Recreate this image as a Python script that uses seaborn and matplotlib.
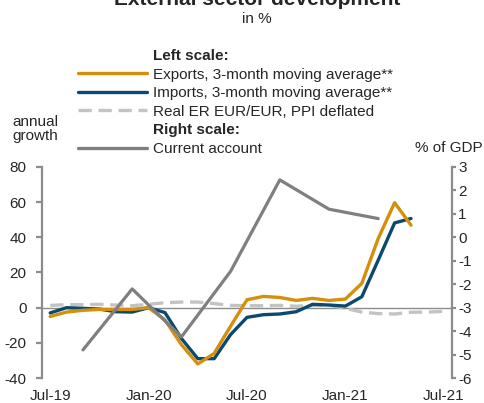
import pandas as pd
import numpy as np
import matplotlib
matplotlib.use("Agg")
import matplotlib.pyplot as plt
from matplotlib.lines import Line2D
import seaborn as sns

# monthly data Jul-19 .. Jul-21 (month index 0..24)
months=list(range(25))
tick_pos=[0,6,12,18,24]
tick_labels=["Jul-19","Jan-20","Jul-20","Jan-21","Jul-21"]

exports=[-5,-2.5,-1.5,-1,-1,-1,0,-7,-21,-32,-26,-10.5,4.5,6.4,5.8,4.1,5.3,4.1,4.9,13.8,39.3,59.7,46.9]
imports=[-3,0,-0.4,-0.8,-2.3,-2.5,0,-2.8,-17.5,-29,-29,-15.3,-5.5,-4,-3.6,-2.3,1.9,1.5,0.9,6.2,27,48.2,50.7]
real_er=[1.3,1.7,1.7,1.9,1.5,1.1,1.9,2.8,3.2,3.2,2.3,1.3,1.1,1.1,1.3,0.8,1.3,1.5,-0.4,-2.5,-3.4,-3.6,-2.6,-2.5,-2.1]
ca_months=[2,5,8,11,14,17,20]
current_account=[-4.8,-2.2,-4.25,-1.45,2.45,1.2,0.8]

c_exp="#D58F0A"
c_imp="#0B4A6E"
c_er="#C3C3C3"
c_ca="#7F7F7F"
c_ax="#8C8C8C"

sns.set_style("white")
plt.rcParams['font.family']=['Liberation Sans','DejaVu Sans']
plt.rcParams['axes.unicode_minus']=False

fig=plt.figure(figsize=(4.85,4.03),dpi=100)
ax=fig.add_axes([42/485,1-378/403,410/485,211/403])
ax2=ax.twinx()

df=pd.DataFrame({"m":months[:len(exports)],"exp":exports,"imp":imports})
dfe=pd.DataFrame({"m":months,"er":real_er})
dfc=pd.DataFrame({"m":ca_months,"ca":current_account})

ax.axhline(0,color=c_ax,lw=1.0,zorder=1)
sns.lineplot(data=dfe,x="m",y="er",ax=ax,color=c_er,lw=2.4,zorder=2).lines[-1].set_dashes([4,2])
sns.lineplot(data=df,x="m",y="imp",ax=ax,color=c_imp,lw=2.4,zorder=3)
sns.lineplot(data=df,x="m",y="exp",ax=ax,color=c_exp,lw=2.4,zorder=4)
sns.lineplot(data=dfc,x="m",y="ca",ax=ax2,color=c_ca,lw=2.3,zorder=5)

ax.set_xlim(-0.5,24.5)
ax.set_ylim(-40,80)
ax.set_yticks([-40,-20,0,20,40,60,80])
ax2.set_ylim(-6,3)
ax2.set_yticks(range(-6,4))
ax.set_xticks(tick_pos)
ax.set_xticklabels(tick_labels)
ax.set_xlabel("");ax.set_ylabel("");ax2.set_ylabel("")

for a in (ax,ax2):
    for s in ("top","bottom"):
        a.spines[s].set_visible(False)
ax.spines["right"].set_visible(False)
ax2.spines["left"].set_visible(False)
ax.spines["left"].set_color(c_ax);ax.spines["left"].set_linewidth(1.6)
ax2.spines["right"].set_color(c_ax);ax2.spines["right"].set_linewidth(1.6)
ax.tick_params(axis="y",length=4,width=1.6,color=c_ax,labelsize=11,pad=7,left=True)
ax2.tick_params(axis="y",length=3,width=1.6,color=c_ax,labelsize=11,pad=1.5,right=True)
ax.tick_params(axis="x",length=0,labelsize=11,pad=8)

handles=[Line2D([],[],color="none"),
         Line2D([],[],color=c_exp,lw=2.4),
         Line2D([],[],color=c_imp,lw=2.4),
         Line2D([],[],color=c_er,lw=2.4,dashes=[4,2]),
         Line2D([],[],color="none"),
         Line2D([],[],color=c_ca,lw=2.4)]
labels=["Left scale:","Exports, 3-month moving average**","Imports, 3-month moving average**",
        "Real ER EUR/EUR, PPI deflated","Right scale:","Current account"]
leg=fig.legend(handles,labels,loc="upper left",bbox_to_anchor=(78/485,1-49/403),frameon=False,
               fontsize=11,handlelength=4.5,handletextpad=0.4,labelspacing=0.3,borderpad=0,borderaxespad=0)
leg.get_texts()[0].set_fontweight("bold")
leg.get_texts()[4].set_fontweight("bold")

fig.text(257/485,1-5/403,"External sector development",ha="center",va="baseline",fontsize=15,fontweight="bold")
fig.text(257/485,1-23/403,"in %",ha="center",va="baseline",fontsize=11)
fig.text(35/485,1-129/403,"annual\ngrowth",ha="center",va="center",fontsize=11,linespacing=1.05)
fig.text(483/485,1-148/403,"% of GDP",ha="right",va="center",fontsize=11)

fig.savefig("out.png",dpi=100)
